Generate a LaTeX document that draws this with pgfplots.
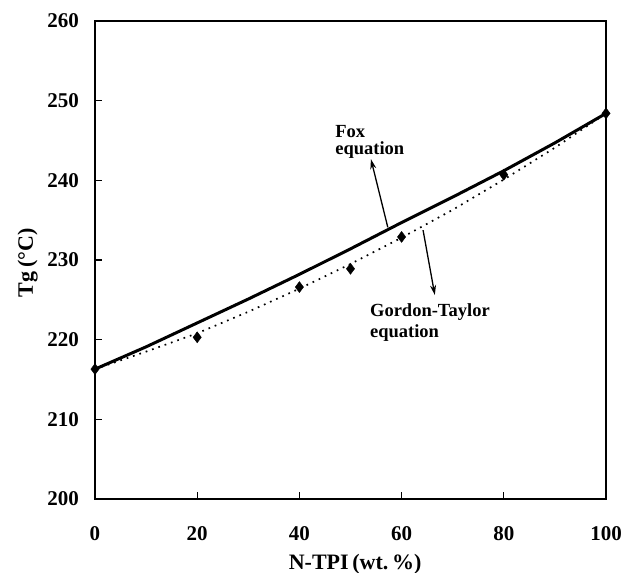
\documentclass[border=0pt]{standalone}
\usepackage{fontspec}
\setmainfont{Liberation Serif}
\usepackage{pgfplots}
\pgfplotsset{compat=1.18}
\usetikzlibrary{arrows.meta}

\begin{document}
\begin{tikzpicture}
\useasboundingbox (-95bp,-74bp) rectangle (529bp,499bp);
\begin{axis}[
  at={(0,0)}, anchor=south west,
  width=511bp, height=478bp, scale only axis,
  xmin=0, xmax=100, ymin=200, ymax=260,
  xtick={0,20,40,60,80,100}, ytick={200,210,220,230,240,250,260},
  tick pos=left, tick align=inside, major tick length=7bp,
  axis line style={line width=2.6bp},
  every tick/.style={line width=1.3bp, black},
  /pgf/number format/assume math mode=true,
  tick label style={font=\fontsize{21bp}{24bp}\selectfont\bfseries, inner sep=0pt},
  xticklabel style={anchor=base, yshift=-41bp},
  yticklabel style={anchor=east, xshift=-16bp},
  clip=false,
]
% Fox equation
\addplot[line width=3bp, black] coordinates {
  (0,216.3)(10,219.1)(20,222.1)(30,225.1)(40,228.2)(50,231.4)
  (60,234.7)(70,237.9)(80,241.2)(90,244.7)(100,248.4)};
% Gordon-Taylor equation
\addplot[line width=1.7bp, black, dash pattern=on 1.7bp off 5bp] coordinates {
  (0,216.3)(10,218.5)(20,220.8)(30,223.5)(40,226.4)(50,229.5)
  (60,232.8)(70,236.3)(80,240.1)(90,244.1)(100,248.4)};
% Experimental data
\addplot[only marks, mark=diamond*, mark size=5.5bp, black] coordinates {
  (0,216.3)(20,220.3)(40,226.6)(50,228.9)(60,232.9)(80,240.7)(100,248.4)};

\node[anchor=base west, inner sep=0pt, font=\fontsize{18.5bp}{19bp}\selectfont\bfseries]
  at (axis cs:47.0,245.4) {Fox};
\node[anchor=base west, inner sep=0pt, font=\fontsize{18.5bp}{19bp}\selectfont\bfseries]
  at (axis cs:47.0,243.2) {equation};
\node[anchor=base west, inner sep=0pt, font=\fontsize{18.5bp}{19bp}\selectfont\bfseries]
  at (axis cs:53.8,222.96) {Gordon-Taylor};
\node[anchor=base west, inner sep=0pt, font=\fontsize{18.5bp}{19bp}\selectfont\bfseries]
  at (axis cs:53.8,220.3) {equation};

\draw[line width=1.3bp, -{Stealth[length=10bp,width=6bp,open]}] (axis cs:57.3,234.1) -- (axis cs:54.0,242.66);
\draw[line width=1.3bp, -{Stealth[length=10bp,width=6bp,open]}] (axis cs:64.2,233.75) -- (axis cs:66.5,225.6);

\node[anchor=base, inner sep=0pt, font=\fontsize{22bp}{26bp}\selectfont\bfseries]
  at ([yshift=-70bp]axis description cs:0.509,0) {N-TPI\,(wt.\,\%)};
\node[rotate=90, anchor=base, inner sep=0pt, font=\fontsize{22bp}{26bp}\selectfont\bfseries]
  at ([xshift=-62bp]axis description cs:0,0.494) {Tg\,(°C)};
\end{axis}
\end{tikzpicture}
\end{document}
